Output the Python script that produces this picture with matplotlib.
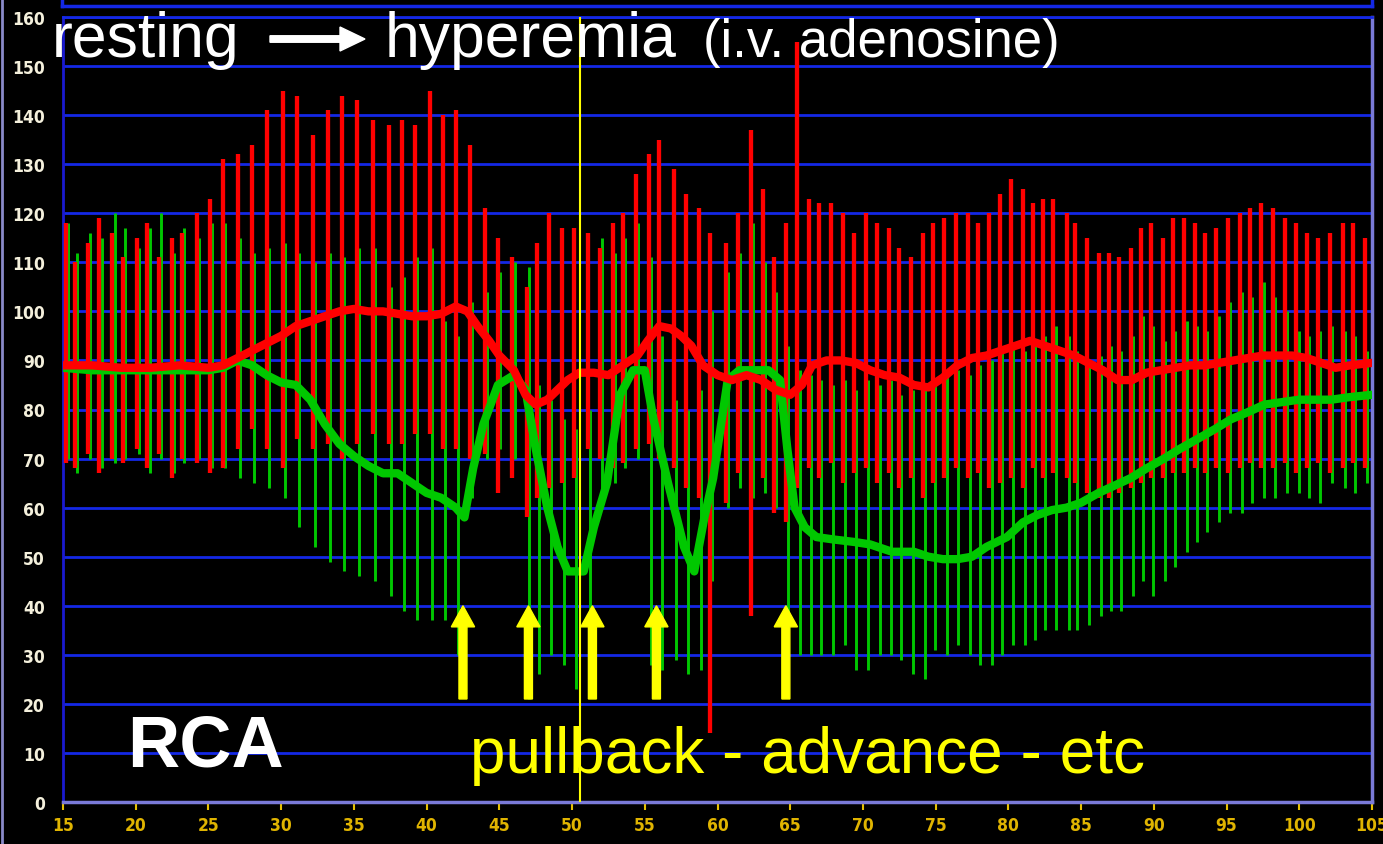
import matplotlib
matplotlib.use("Agg")
import matplotlib.pyplot as plt
from matplotlib.patches import FancyArrow
from matplotlib.lines import Line2D

W, H = 1383, 845

# one entry per heart beat (time in s)
beat_t = [15.2, 15.8, 16.7, 17.5, 18.4, 19.1, 20.1, 20.8, 21.6, 22.5, 23.2, 24.2, 25.1,
          26.0, 27.0, 28.0, 29.0, 30.1, 31.1, 32.2, 33.2, 34.2, 35.2, 36.3, 37.4, 38.3, 39.2,
          40.2, 41.1, 42.0, 43.0, 44.0, 44.9, 45.9, 46.9,
          47.6, 48.4, 49.3, 50.1, 51.1, 51.9, 52.8, 53.5, 54.4, 55.3, 56.0, 57.0, 57.8, 58.7, 59.5,
          60.6, 61.4, 62.3, 63.1, 63.9, 64.7, 65.5, 66.3, 67.0, 67.8, 68.6, 69.4, 70.2, 71.0,
          71.8, 72.5, 73.3, 74.1, 74.8, 75.6, 76.4, 77.2, 77.9, 78.7, 79.4, 80.2, 81.0,
          81.7, 82.4, 83.1, 84.0, 84.6, 85.4, 86.2, 86.9, 87.6, 88.4, 89.1, 89.8, 90.6, 91.3,
          92.1, 92.8, 93.5, 94.3, 95.1, 95.9, 96.6, 97.4, 98.2, 99.0, 99.8, 100.5, 101.3,
          102.1, 103.0, 103.7, 104.5]

# aortic pressure (red), systolic / diastolic per beat
pa_sys = [118, 110, 114, 119, 116, 111, 115, 118, 111, 115, 116, 120, 123,
          131, 132, 134, 141, 145, 144, 136, 141, 144, 143, 139, 138, 139, 138,
          145, 140, 141, 134, 121, 115, 111, 105,
          114, 120, 117, 117, 116, 113, 118, 120, 128, 132, 135, 129, 124, 121, 116,
          114, 120, 137, 125, 111, 118, 155, 123, 122, 122, 120, 116, 120, 118,
          117, 113, 111, 116, 118, 119, 120, 120, 118, 120, 124, 127, 125,
          122, 123, 123, 120, 118, 115, 112, 112, 111, 113, 117, 118, 115, 119,
          119, 118, 116, 117, 119, 120, 121, 122, 121, 119, 118, 116, 115,
          116, 118, 118, 115]
pa_dia = [69, 68, 71, 67, 70, 69, 72, 68, 71, 66, 70, 69, 67,
          68, 72, 76, 72, 68, 74, 72, 73, 70, 73, 75, 73, 73, 75,
          75, 72, 72, 70, 71, 63, 66, 58,
          62, 64, 65, 66, 72, 70, 68, 69, 72, 73, 70, 68, 64, 62, 14,
          61, 67, 38, 66, 59, 57, 64, 68, 66, 69, 65, 67, 68, 65,
          67, 64, 66, 62, 65, 66, 68, 66, 67, 64, 65, 66, 64,
          68, 66, 67, 66, 65, 63, 62, 62, 63, 64, 65, 66, 66, 67,
          67, 68, 67, 68, 67, 68, 69, 68, 68, 69, 67, 68, 69,
          67, 68, 69, 68]

# distal pressure (green), systolic / diastolic per beat
pd_sys = [118, 112, 116, 115, 120, 117, 113, 117, 120, 112, 117, 115, 118,
          118, 115, 112, 113, 114, 112, 110, 112, 111, 113, 113, 105, 107, 111,
          113, 98, 95, 102, 104, 108, 110, 109,
          85, 82, 78, 76, 80, 115, 112, 115, 118, 111, 95, 82, 80, 84, 100,
          108, 112, 118, 110, 104, 93, 88, 87, 86, 85, 86, 84, 86, 85,
          86, 83, 84, 85, 86, 88, 88, 87, 89, 90, 92, 93, 92,
          94, 95, 97, 95, 92, 90, 91, 93, 92, 95, 99, 97, 94, 96,
          98, 97, 96, 99, 102, 104, 103, 106, 103, 100, 96, 95, 96,
          97, 96, 95, 92]
pd_dia = [70, 67, 70, 68, 69, 70, 71, 67, 70, 67, 69, 70, 68,
          68, 66, 65, 64, 62, 56, 52, 49, 47, 46, 45, 42, 39, 37,
          37, 37, 30, 62, 70, 72, 70, 21,
          26, 30, 28, 23, 26, 62, 65, 68, 70, 28, 27, 29, 26, 27, 45,
          60, 64, 62, 63, 60, 35, 30, 30, 30, 30, 32, 27, 27, 30,
          30, 29, 26, 25, 31, 30, 32, 30, 28, 28, 30, 32, 32,
          33, 35, 35, 35, 35, 36, 38, 39, 39, 42, 45, 42, 45, 48,
          51, 53, 55, 57, 59, 59, 61, 62, 62, 63, 63, 62, 61,
          65, 64, 63, 65]

# mean pressures
pa_mean_t = [15, 17, 19, 21, 23, 25, 26, 27, 28, 29, 30, 31, 32, 33, 34, 35, 36, 37, 38, 39, 40,
             41, 42, 42.8, 43.5, 44.3, 45, 46, 46.8, 47.5, 48.3, 49, 49.7, 50.5, 51.5, 52.5,
             53.5, 54.5, 55.2, 56, 56.8, 57.5, 58.2, 59, 60, 61, 62, 63, 64, 65, 65.8, 66.5,
             67.5, 68.5, 69.5, 70.5, 71.5, 72.5, 73.5, 74.5, 75.5, 76.5, 77.5, 78.5, 79.5,
             80.5, 81.5, 82.5, 83.5, 84.5, 85.5, 86.5, 87.5, 88.5, 89.5, 90.5, 91.5, 92.5,
             93.5, 94.5, 95.5, 96.5, 97.5, 98.5, 99.5, 100.5, 101.5, 102.5, 103.5, 105]
pa_mean = [89, 89, 88.5, 88.5, 89, 88.5, 89, 90.5, 92, 93.5, 95, 97, 98, 99, 100, 100.5, 100,
           100, 99.5, 99, 99, 99.5, 101, 100, 97, 94, 91, 88, 83, 81, 82, 84, 86, 87.5, 87.5,
           87, 89, 91, 94, 97, 96.5, 95, 93, 89, 87, 86, 87, 86, 84, 83, 85, 89, 90, 90,
           89.5, 88, 87, 86.5, 85, 84.5, 86.5, 89, 90.5, 91, 92, 93, 94, 93, 92, 91, 89.5,
           88, 86, 86, 87.5, 88, 88.5, 89, 89, 89.5, 90, 90.5, 91, 91, 91, 90.5, 89.5,
           88.5, 89, 89.5]
pd_mean_t = [15, 17, 19, 21, 23, 25, 26, 27, 28, 29, 30, 31, 32, 33, 34, 35, 36, 37, 38, 39, 40,
             41, 42, 42.6, 43.2, 43.9, 44.9, 46, 46.8, 47.5, 48.3, 49, 49.7, 50.8, 51.5, 52.4,
             53.3, 54.2, 55, 55.6, 56.6, 57.7, 58.4, 59.1, 59.7, 60.2, 60.7, 61.5, 62.5, 63.5,
             64.3, 64.8, 65.3, 66, 66.8, 68, 69.4, 70.5, 72, 73.5, 74.5, 75.5, 76.5, 77.5,
             78.5, 79.9, 81, 82, 83, 84, 85, 86.2, 87.3, 88.4, 89.5, 90.7, 91.8, 93, 94.2,
             95.3, 96.5, 97.6, 98.8, 100, 101.1, 102.2, 103.4, 105]
pd_mean = [88.5, 88, 88, 88, 88, 88, 88.5, 90, 89, 87, 85.5, 85, 82, 77, 73, 70.5, 68.5, 67,
           67, 65, 63, 62, 60, 58, 68, 77, 85, 87, 84, 72, 60, 52, 47, 47, 56, 65, 83, 88,
           88, 78, 65, 52, 47, 58, 66, 76, 86, 88, 88, 88, 86, 72, 60, 56, 54, 53.5, 53,
           52.5, 51, 51, 50, 49.5, 49.5, 50, 52, 54, 57, 58.5, 59.5, 60, 61, 63, 64.5, 66,
           68, 70, 72, 74, 76, 78, 79.5, 81, 81.5, 82, 82, 82, 82.5, 83]

arrow_t = [42.5, 47.0, 51.4, 55.8, 64.7]
cursor_t = 50.55

RED = "#ff0000"
GREEN = "#00c800"
GRID = "#1428e6"

fig = plt.figure(figsize=(W / 100, H / 100), dpi=100, facecolor="black")
ax = fig.add_axes([63 / W, 42 / H, 1309 / W, 785 / H], facecolor="black")

ax.set_xlim(15, 105)
ax.set_ylim(0, 160)
ax.set_yticks(range(0, 161, 10))
ax.set_xticks(range(15, 106, 5))
ax.yaxis.grid(True, color=GRID, lw=2)
ax.set_axisbelow(True)
ax.tick_params(axis="y", length=0, pad=13, labelcolor="#f4f0dc", labelsize=12.5)
ax.tick_params(axis="x", length=6, width=1.5, color="#e6c000", pad=4,
               labelcolor="#e0b400", labelsize=12.5)
for lab in ax.get_xticklabels() + ax.get_yticklabels():
    lab.set_family("DejaVu Sans")
    lab.set_fontweight("bold")
    lab.set_stretch("condensed")
ax.spines["left"].set_color("#1a1ad0")
ax.spines["left"].set_linewidth(2)
ax.spines["top"].set_color(GRID)
ax.spines["top"].set_linewidth(2)
for s in ("bottom", "right"):
    ax.spines[s].set_color("#7a7ad8")
    ax.spines[s].set_linewidth(2.5)

# pulsatile traces
gt = [t + 0.15 for t in beat_t]
ax.vlines(gt, pd_dia, pd_sys, color=GREEN, lw=2.1, zorder=2)
ax.vlines(beat_t, pa_dia, pa_sys, color=RED, lw=3.1, zorder=3)
ax.plot(pd_mean_t, pd_mean, color=GREEN, lw=6, zorder=4, solid_joinstyle="round")
ax.plot(pa_mean_t, pa_mean, color=RED, lw=6, zorder=5, solid_joinstyle="round")

ax.axvline(cursor_t, color="#ffff00", lw=1.5, zorder=6)

for t in arrow_t:
    ax.arrow(t, 21, 0, 19, width=0.55, head_width=1.6, head_length=4.3,
             length_includes_head=True, color="#ffff00", zorder=7)

# frame pieces outside the axes
fig.add_artist(Line2D([62 / W, 1372 / W], [1 - 7 / H, 1 - 7 / H], color=GRID, lw=2.5))
fig.add_artist(Line2D([62 / W, 62 / W], [1 - 7 / H, 1], color=GRID, lw=2.5))
fig.add_artist(Line2D([1372 / W, 1372 / W], [1 - 7 / H, 1], color=GRID, lw=2.5))
fig.add_artist(Line2D([1.5 / W, 1.5 / W], [0, 1], color="#8a8ac8", lw=2))

# annotations
def ftext(x, y, s, **kw):
    fig.text(x / W, 1 - y / H, s, ha="left", va="baseline",
             family="Liberation Sans", zorder=10, **kw)

ftext(52, 57, "resting", color="white", fontsize=45)
ftext(385, 57, "hyperemia", color="white", fontsize=45)
ftext(703, 57, "(i.v. adenosine)", color="white", fontsize=38)
fig.add_artist(FancyArrow(2.70, (H - 40) / 100, 0.95, 0, width=0.065, head_width=0.24,
                          head_length=0.25, length_includes_head=True, color="white",
                          transform=fig.dpi_scale_trans, zorder=10))
ftext(127, 767, "RCA", color="white", fontsize=52, fontweight="bold")
ftext(470, 773, "pullback - advance - etc", color="#ffff00", fontsize=46)

fig.savefig("out.png", dpi=100, facecolor="black")
